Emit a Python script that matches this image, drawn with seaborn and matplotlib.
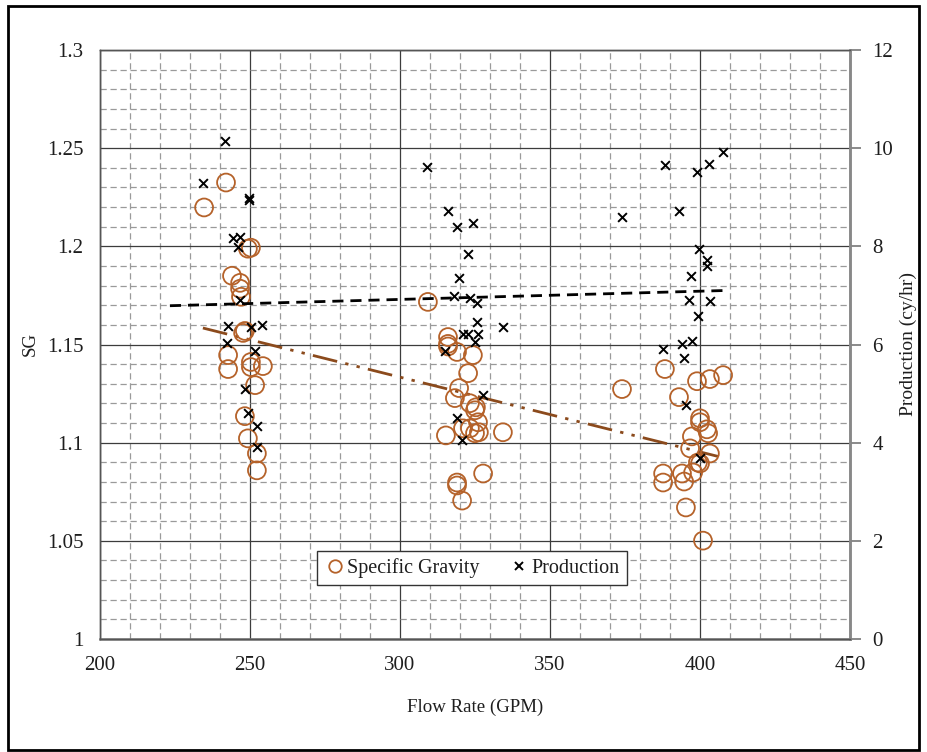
import numpy as np
import pandas as pd
import matplotlib
matplotlib.use("Agg")
import matplotlib.pyplot as plt
import seaborn as sns
from matplotlib.ticker import MultipleLocator
from matplotlib.lines import Line2D
from matplotlib.patches import Rectangle

# ---- data ----
sg_flow = [242.0, 234.7, 250.3, 249.3, 244.0, 246.7, 246.7, 247.0, 247.7, 248.3,
           242.7, 242.7, 250.3, 250.3, 254.3, 251.7, 248.3, 249.3, 252.3, 252.3,
           309.3, 316.0, 316.0, 316.0, 319.0, 324.3, 322.7, 319.7, 318.3, 323.3,
           325.3, 325.0, 326.0, 321.0, 323.3, 325.0, 326.3, 315.3, 334.3, 327.7,
           319.0, 319.0, 320.7,
           388.3, 374.0, 399.0, 403.3, 407.7, 393.0, 400.0, 400.0, 402.3, 402.7,
           397.3, 396.7, 403.3, 399.3, 400.0, 397.7, 387.7, 387.7, 394.0, 394.7,
           395.3, 401.0]
sg_vals = [1.2325, 1.2198, 1.1993, 1.1988, 1.1850, 1.1814, 1.1784, 1.1743, 1.1559, 1.1569,
           1.1446, 1.1375, 1.1411, 1.1385, 1.1390, 1.1293, 1.1135, 1.1022, 1.0945, 1.0859,
           1.1717, 1.1538, 1.1503, 1.1490, 1.1462, 1.1446, 1.1354, 1.1278, 1.1227, 1.1201,
           1.1180, 1.1165, 1.1104, 1.1073, 1.1073, 1.1048, 1.1053, 1.1037, 1.1053, 1.0843,
           1.0797, 1.0782, 1.0705,
           1.1375, 1.1273, 1.1313, 1.1324, 1.1344, 1.1232, 1.1124, 1.1104, 1.1068, 1.1048,
           1.1032, 1.0971, 1.0945, 1.0899, 1.0894, 1.0848, 1.0843, 1.0797, 1.0843, 1.0802,
           1.0670, 1.0501]

prod_flow = [234.3, 241.7, 249.7, 249.7, 244.3, 246.7, 246.0, 246.7, 242.7, 250.3,
             254.0, 242.3, 251.7, 248.3, 249.3, 252.3, 252.3,
             309.0, 316.0, 319.0, 324.3, 322.7, 319.7, 318.0, 323.3, 325.7, 325.7,
             334.3, 321.0, 322.7, 326.0, 325.0, 315.0, 327.7, 319.0, 320.7,
             388.3, 399.0, 403.0, 407.7, 374.0, 393.0, 399.7, 402.3, 402.3, 397.0,
             396.3, 403.3, 399.3, 387.7, 394.0, 397.3, 394.7, 395.3, 400.0]
prod_vals = [9.30, 10.14, 8.98, 8.94, 8.16, 8.18, 7.98, 6.91, 6.38, 6.36,
             6.40, 6.03, 5.87, 5.09, 4.60, 4.34, 3.91,
             9.61, 8.73, 8.40, 8.47, 7.85, 7.36, 6.99, 6.95, 6.85, 6.46,
             6.36, 6.22, 6.22, 6.22, 6.05, 5.87, 4.97, 4.50, 4.05,
             9.65, 9.51, 9.67, 9.92, 8.59, 8.71, 7.95, 7.73, 7.59, 7.40,
             6.91, 6.89, 6.58, 5.91, 6.01, 6.07, 5.73, 4.76, 3.68]

sg_trend_flow = [234.3, 406.0]
sg_trend_vals = [1.1584, 1.0930]
prod_trend_flow = [223.3, 408.3]
prod_trend_vals = [6.79, 7.10]

x_ticks = [200, 250, 300, 350, 400, 450]
sg_ticks = [1, 1.05, 1.1, 1.15, 1.2, 1.25, 1.3]
sg_tick_labels = ["1", "1.05", "1.1", "1.15", "1.2", "1.25", "1.3"]
prod_ticks = [0, 2, 4, 6, 8, 10, 12]

# ---- styling ----
sns.set_theme(style="white")
plt.rcParams["font.family"] = ["Liberation Serif", "DejaVu Serif"]

SG_COLOR = "#B5622A"
TREND_COLOR = "#8B4A1C"
TXT = "#1e1e1e"

fig = plt.figure(figsize=(9.27, 7.52), dpi=100)
ax = fig.add_axes([100 / 927, 1 - 639 / 752, 750 / 927, 589 / 752])
ax2 = ax.twinx()

df_sg = pd.DataFrame({"flow": sg_flow, "sg": sg_vals})
df_pr = pd.DataFrame({"flow": prod_flow, "prod": prod_vals})

# grid
ax.set_xlim(200, 450)
ax.set_ylim(1.0, 1.3)
ax.xaxis.set_major_locator(MultipleLocator(50))
ax.xaxis.set_minor_locator(MultipleLocator(10))
ax.yaxis.set_major_locator(MultipleLocator(0.05))
ax.yaxis.set_minor_locator(MultipleLocator(0.01))
ax.grid(which="minor", color="#9a9a9a", linestyle=(0, (5, 3)), linewidth=0.9)
ax.grid(which="major", color="#3c3c3c", linestyle="-", linewidth=0.9)
ax.set_axisbelow(True)

# trend lines
sns.lineplot(x=sg_trend_flow, y=sg_trend_vals, ax=ax, color=TREND_COLOR,
             linewidth=2.0, linestyle=(0, (9, 3, 1.2, 3, 1.2, 3)), zorder=3)
sns.lineplot(x=prod_trend_flow, y=prod_trend_vals, ax=ax2, color="black",
             linewidth=2.0, linestyle=(0, (4, 2.5)), zorder=3)

# scatter
sns.scatterplot(data=df_sg, x="flow", y="sg", ax=ax, marker="o", s=165,
                facecolors="none", edgecolor=SG_COLOR, linewidth=1.3, zorder=4)
sns.scatterplot(data=df_pr, x="flow", y="prod", ax=ax2, marker="x", s=40,
                color="black", linewidth=1.4, zorder=5)

ax2.set_ylim(0, 12)
ax2.set_yticks(prod_ticks)
ax2.grid(False)

ax.set_xticks(x_ticks)
ax.set_yticks(sg_ticks)
ax.set_yticklabels(sg_tick_labels)

ax.set_xlabel("Flow Rate (GPM)", fontsize=13.6, color=TXT, labelpad=17)
ax.set_ylabel("SG", fontsize=13.6, color=TXT, labelpad=6)
ax2.set_ylabel("Production (cy/hr)", fontsize=14, color=TXT, labelpad=5)

ax.tick_params(axis="x", which="both", length=0, labelsize=15, colors=TXT, pad=12)
ax.tick_params(axis="y", which="both", length=0, labelsize=15, colors=TXT, pad=12)
ax2.tick_params(axis="y", which="major", length=8, width=1.2, color="#777777",
                labelsize=15, labelcolor=TXT, pad=8, direction="out")

for a in (ax, ax2):
    for side in ("left", "bottom", "top"):
        a.spines[side].set_color("#555555")
        a.spines[side].set_linewidth(1.0)
    a.spines["right"].set_color("#888888")
    a.spines["right"].set_linewidth(1.8)
ax.spines["bottom"].set_color("#777777")
ax.spines["bottom"].set_linewidth(1.8)

# legend
handles = [
    Line2D([], [], marker="o", linestyle="none", markersize=9, markerfacecolor="none",
           markeredgecolor=SG_COLOR, markeredgewidth=1.3, label="Specific Gravity"),
    Line2D([], [], marker="x", linestyle="none", markersize=6, color="black",
           markeredgewidth=1.4, label="Production"),
]
leg = ax.legend(handles=handles, loc="center", bbox_to_anchor=(0.496, 0.12), ncol=2,
                fontsize=14.5, frameon=True, fancybox=False, framealpha=1,
                edgecolor="#333333", handletextpad=0.1, columnspacing=1.5,
                borderpad=0.35, handlelength=1.0)
leg.get_frame().set_linewidth(1.0)
leg.set_zorder(10)
for t in leg.get_texts():
    t.set_color(TXT)

# outer frame
fig.patches.append(Rectangle((8 / 927, 2 / 752), 911 / 927, 744 / 752, transform=fig.transFigure,
                             fill=False, edgecolor="black", linewidth=2.0))

fig.savefig("out.png", dpi=100)
